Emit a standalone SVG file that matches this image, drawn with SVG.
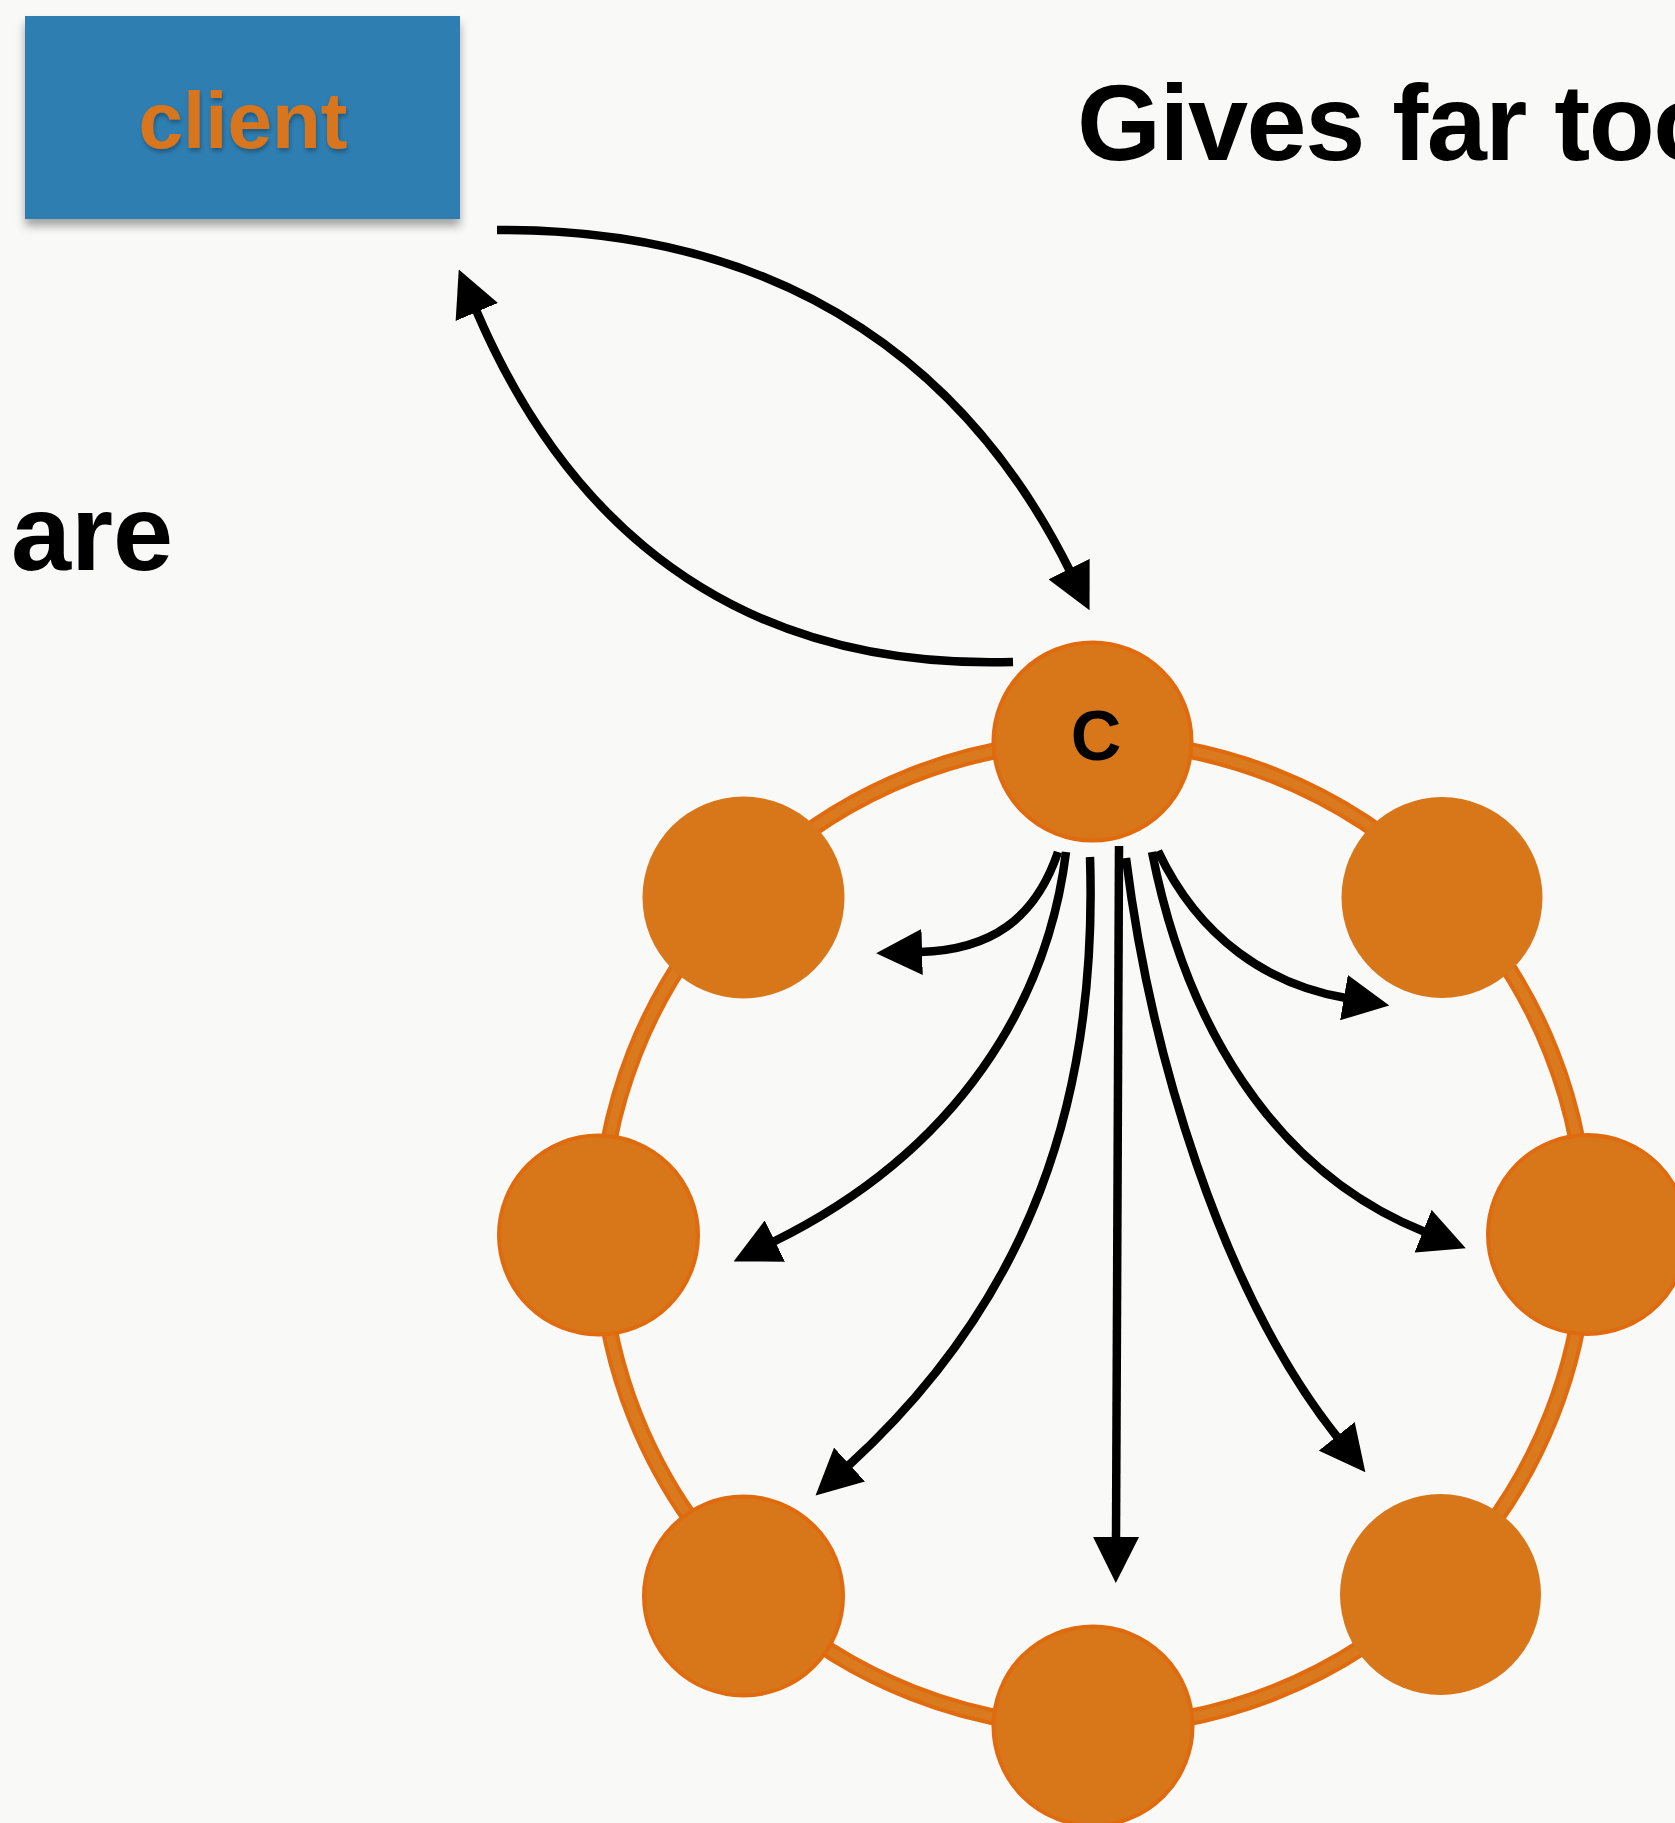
<svg xmlns="http://www.w3.org/2000/svg" width="1675" height="1823" viewBox="0 0 1675 1823">
<style>
.bold{font-family:"Liberation Sans",Arial,sans-serif;font-weight:bold}
.title{font-size:108px;fill:#000}
.ring-out{fill:none;stroke:#E06A0E;stroke-width:17}
.ring-in{fill:none;stroke:#DA7A1F;stroke-width:9}
.node{fill:#D8761A}
.node-o{fill:#D8761A;stroke:#E06A0E;stroke-width:4}
.arr{fill:none;stroke:#000;stroke-width:8.5;stroke-linecap:butt;marker-end:url(#ah)}
</style>
<defs>
<marker id="ah" markerUnits="userSpaceOnUse" markerWidth="46" markerHeight="46" viewBox="0 0 44 44" refX="2" refY="22" orient="auto">
<path d="M0,0 L44,22 L0,44 z" fill="#000"/>
</marker>
<filter id="sh" x="-10%" y="-10%" width="120%" height="130%">
<feDropShadow dx="0" dy="7" stdDeviation="5" flood-color="#000" flood-opacity="0.35"/>
</filter>
<filter id="tsh" x="-10%" y="-10%" width="120%" height="130%">
<feDropShadow dx="1" dy="3" stdDeviation="2" flood-color="#000" flood-opacity="0.3"/>
</filter>
</defs>
<rect width="1675" height="1823" fill="#F9F9F8"/>
<g id="text-gives"><text class="bold title" x="1077" y="160" letter-spacing="-1.5">Gives far too</text></g>
<g id="text-are"><text class="bold title" x="11" y="570">are</text></g>
<g id="client">
<rect x="25" y="16" width="435" height="203" fill="#2D7EB2" filter="url(#sh)"/>
<text class="bold" x="243" y="148" font-size="80" fill="#D9751B" text-anchor="middle" filter="url(#tsh)">client</text>
</g>
<g id="ring">
<circle class="ring-out" cx="1093" cy="1234" r="493"/>
<circle class="ring-in" cx="1093" cy="1234" r="493"/>
</g>
<g id="node-c"><circle class="node-o" cx="1092.5" cy="741.5" r="99"/><text class="bold" x="1096" y="760" font-size="70" text-anchor="middle" fill="#000">C</text></g>
<g id="node-tr"><circle class="node" cx="1442" cy="897.5" r="100.5"/></g>
<g id="node-r"><circle class="node-o" cx="1587.5" cy="1234.5" r="99.5"/></g>
<g id="node-br"><circle class="node" cx="1440.5" cy="1594.5" r="100.5"/></g>
<g id="node-b"><circle class="node-o" cx="1093" cy="1726" r="99.5"/></g>
<g id="node-bl"><circle class="node-o" cx="743.5" cy="1596" r="99.5"/></g>
<g id="node-l"><circle class="node-o" cx="598.5" cy="1235" r="99.5"/></g>
<g id="node-tl"><circle class="node" cx="743.5" cy="897.5" r="101"/></g>
<g id="connectors">
<path class="arr" d="M497,230 C800,228 975,380 1070,571"/>
<path class="arr" d="M1013,662 C680,672 540,460 476,310"/>
<path class="arr" d="M1058,852 C1035,920 990,950 920,952"/>
<path class="arr" d="M1066,852 C1048,1000 960,1150 773,1242"/>
<path class="arr" d="M1090,857 C1098,1100 1030,1300 848,1466"/>
<path class="arr" d="M1119,846 L1116,1539"/>
<path class="arr" d="M1126,858 C1150,1050 1220,1290 1338,1438"/>
<path class="arr" d="M1152,852 C1185,1020 1270,1170 1425,1232"/>
<path class="arr" d="M1158,851 C1200,940 1270,985 1346,998"/>
</g>
</svg>
